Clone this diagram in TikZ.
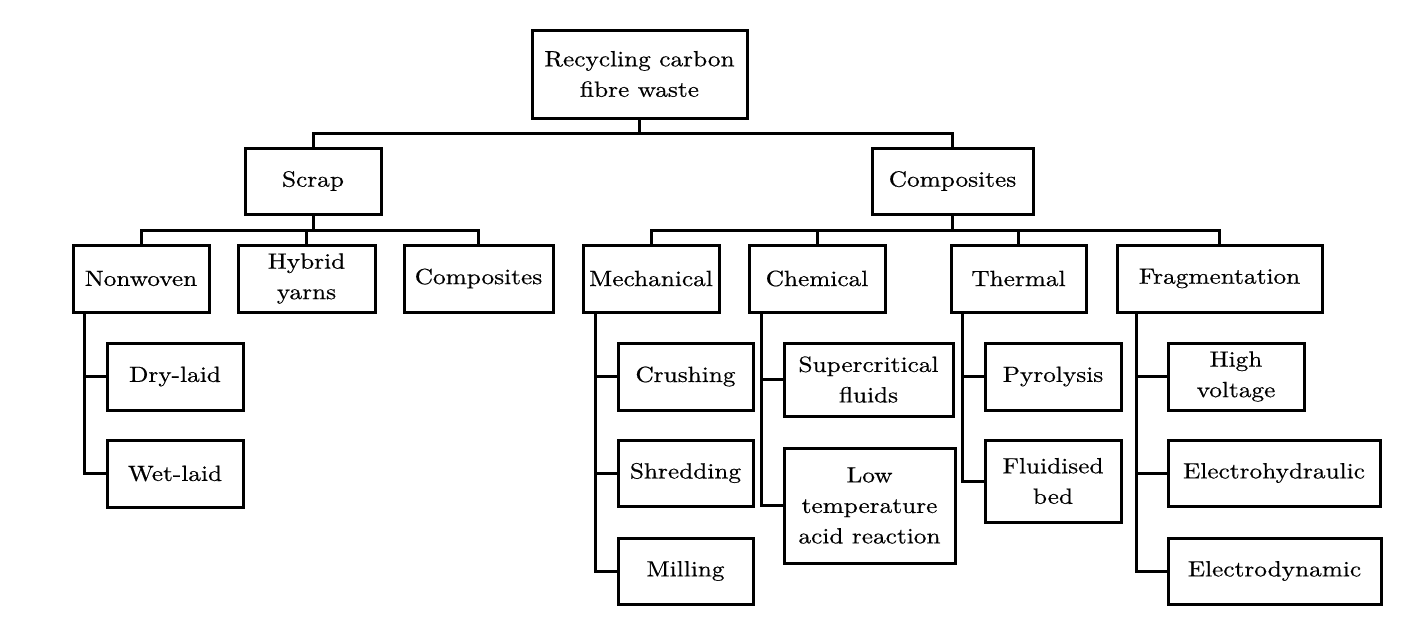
\documentclass[tikz,border=0pt]{standalone}
\usepackage{fontspec}
\setmainfont{lmroman10-regular}[Extension=.otf, FakeStretch=1.15, FakeBold=0.5]
\begin{document}
\begin{tikzpicture}[x=1pt,y=-1pt,
  box/.style={draw, line width=3pt, inner sep=0pt, align=center,
    font=\fontsize{22}{30.5}\selectfont},
  bx/.style 2 args={box, minimum width=#1pt, minimum height=#2pt},
  link/.style={line width=3pt}]
\useasboundingbox (0,0) rectangle (1422,630);
% level 0
\node[bx={215}{88}] (root) at (639.5,74) {Recycling carbon\\fibre waste};
% level 1
\node[bx={136}{66}] (scrap) at (313,181) {Scrap};
\node[bx={161}{66}] (compT) at (952.5,181) {Composites};
% level 2
\node[bx={136}{67}] (nonw) at (141,278.5) {Nonwoven};
\node[bx={137}{67}] (hybrid) at (306.5,278.5) {Hybrid\\yarns};
\node[bx={149}{67}] (compL) at (478.5,278.5) {Composites};
\node[bx={136}{67}] (mech) at (651,278.5) {Mechanical};
\node[bx={136}{67}] (chem) at (817,278.5) {Chemical};
\node[bx={135}{67}] (therm) at (1018.5,278.5) {Thermal};
\node[bx={205}{67}] (frag) at (1219.5,278.5) {Fragmentation};
% level 3
\node[bx={136}{67}] (dry) at (175,376.5) {Dry-laid};
\node[bx={136}{67}] (wet) at (175,473.5) {Wet-laid};
\node[bx={135}{67}] (crush) at (685.5,376.5) {Crushing};
\node[bx={135}{66}] (shred) at (685.5,473) {Shredding};
\node[bx={135}{66}] (mill) at (685.5,571) {Milling};
\node[bx={169}{73}] (super) at (868.5,379.5) {Supercritical\\fluids};
\node[bx={171}{115}] (lowt) at (869.5,505.5) {Low\\temperature\\acid reaction};
\node[bx={136}{67}] (pyro) at (1053,376.5) {Pyrolysis};
\node[bx={136}{82}] (fluid) at (1053,481) {Fluidised\\bed};
\node[bx={136}{67}] (high) at (1236,376.5) {High\\voltage};
\node[bx={212}{66}] (ehyd) at (1274,473) {Electrohydraulic};
\node[bx={213}{66}] (edyn) at (1274.5,571) {Electrodynamic};
% buses
\coordinate (b0) at (639.5,133);
\coordinate (b1) at (313,230);
\coordinate (b2) at (952.5,230);
\draw[link] (root.south) -- (b0);
\draw[link] (scrap.north) |- (b0) -| (compT.north);
\draw[link] (scrap.south) -- (b1);
\draw[link] (nonw.north) |- (b1) -| (compL.north);
\draw[link] (hybrid.north) -- (hybrid.north |- b1);
\draw[link] (compT.south) -- (b2);
\draw[link] (mech.north) |- (b2) -| (frag.north);
\draw[link] (chem.north) -- (chem.north |- b2);
\draw[link] (therm.north) -- (therm.north |- b2);
% trunks
\draw[link] ([xshift=13pt]nonw.south west) |- (wet.west);
\draw[link] ([xshift=13pt]nonw.south west) |- (dry.west);
\draw[link] ([xshift=14pt]mech.south west) |- (mill.west);
\draw[link] ([xshift=14pt]mech.south west) |- (shred.west);
\draw[link] ([xshift=14pt]mech.south west) |- (crush.west);
\draw[link] ([xshift=14pt]chem.south west) |- (lowt.west);
\draw[link] ([xshift=14pt]chem.south west) |- (super.west);
\draw[link] ([xshift=13pt]therm.south west) |- (fluid.west);
\draw[link] ([xshift=13pt]therm.south west) |- (pyro.west);
\draw[link] ([xshift=21pt]frag.south west) |- (edyn.west);
\draw[link] ([xshift=21pt]frag.south west) |- (ehyd.west);
\draw[link] ([xshift=21pt]frag.south west) |- (high.west);
\end{tikzpicture}
\end{document}
